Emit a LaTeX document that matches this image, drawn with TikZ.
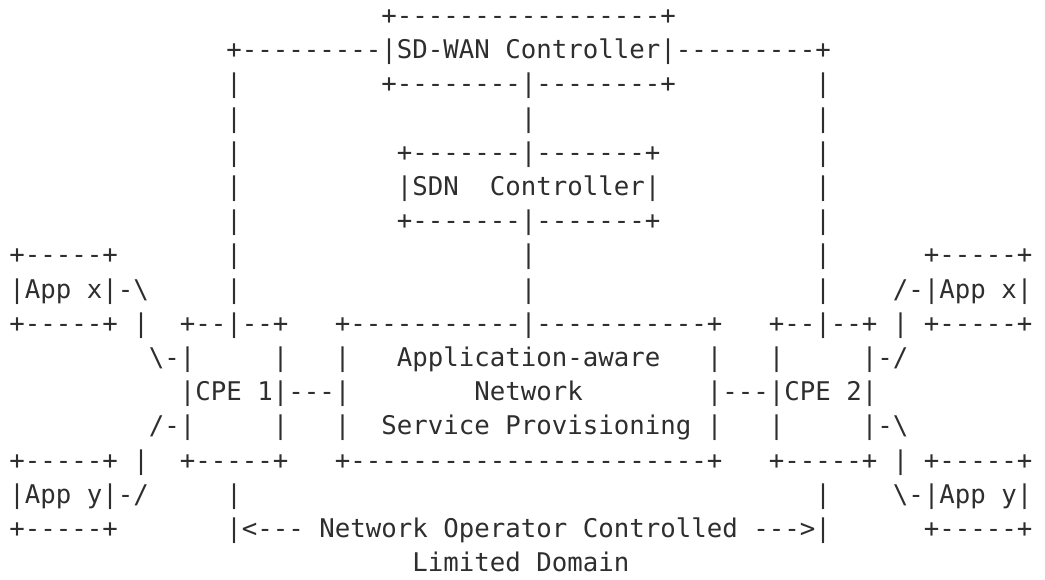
\documentclass[tikz,border=0pt]{standalone}
\usepackage{fontspec}
\setmonofont{DejaVu Sans Mono}
\definecolor{ink}{HTML}{2E2E2E}
% one character cell: 15.5pt wide, rows 34.2pt apart
\newcommand{\cellw}{15.5}
\newcommand{\rowh}{34.2}
\tikzset{
  glyphs/.style={anchor=base west, inner sep=0pt, outer sep=0pt, text=ink,
    font=\ttfamily\fontsize{25.75}{34.2}\selectfont},
}
% \seg{name}{column}{row}{text}
\newcommand{\seg}[4]{%
  \node[glyphs] (#1) at ({9.25+#2*\cellw}, {-(24.5+(#3-1)*\rowh)}) {#4};}
\begin{document}
\begin{tikzpicture}[x=1pt,y=1pt]
\useasboundingbox (0,-579) rectangle (1045,0);
% SD-WAN controller
\seg{wanTop}{24}{1}{+-----------------+}
\seg{wanMid}{14}{2}{+---------|SD-WAN Controller|---------+}
\seg{wanLeftA}{14}{3}{|}
\seg{wanBot}{24}{3}{+--------|--------+}
\seg{wanRightA}{52}{3}{|}
\seg{wanLeftB}{14}{4}{|}
\seg{wanDown}{33}{4}{|}
\seg{wanRightB}{52}{4}{|}
% SDN controller
\seg{wanLeftC}{14}{5}{|}
\seg{sdnTop}{25}{5}{+-------|-------+}
\seg{wanRightC}{52}{5}{|}
\seg{wanLeftD}{14}{6}{|}
\seg{sdnMid}{25}{6}{|SDN\ \ Controller|}
\seg{wanRightD}{52}{6}{|}
\seg{wanLeftE}{14}{7}{|}
\seg{sdnBot}{25}{7}{+-------|-------+}
\seg{wanRightE}{52}{7}{|}
% applications x and the links down to the CPEs
\seg{appXlTop}{0}{8}{+-----+}
\seg{wanLeftF}{14}{8}{|}
\seg{sdnDownA}{33}{8}{|}
\seg{wanRightF}{52}{8}{|}
\seg{appXrTop}{59}{8}{+-----+}
\seg{appXlMid}{0}{9}{|App x|-\textbackslash}
\seg{wanLeftG}{14}{9}{|}
\seg{sdnDownB}{33}{9}{|}
\seg{wanRightG}{52}{9}{|}
\seg{appXrMid}{57}{9}{/-|App x|}
% CPEs and the provisioning box
\seg{appXlBot}{0}{10}{+-----+}
\seg{linkXl}{8}{10}{|}
\seg{cpeOneTop}{11}{10}{+--|--+}
\seg{provTop}{21}{10}{+-----------|-----------+}
\seg{cpeTwoTop}{49}{10}{+--|--+}
\seg{linkXr}{57}{10}{|}
\seg{appXrBot}{59}{10}{+-----+}
\seg{linkXlIn}{9}{11}{\textbackslash-|}
\seg{cpeOneR}{17}{11}{|}
\seg{provLA}{21}{11}{|}
\seg{provTxtA}{25}{11}{Application-aware}
\seg{provRA}{45}{11}{|}
\seg{cpeTwoL}{49}{11}{|}
\seg{linkXrIn}{55}{11}{|-/}
\seg{cpeOne}{11}{12}{|CPE 1|---|}
\seg{provTxtB}{30}{12}{Network}
\seg{cpeTwo}{45}{12}{|---|CPE 2|}
\seg{linkYlIn}{9}{13}{/-|}
\seg{cpeOneRB}{17}{13}{|}
\seg{provLB}{21}{13}{|}
\seg{provTxtC}{24}{13}{Service Provisioning}
\seg{provRB}{45}{13}{|}
\seg{cpeTwoLB}{49}{13}{|}
\seg{linkYrIn}{55}{13}{|-\textbackslash}
\seg{appYlTop}{0}{14}{+-----+}
\seg{linkYl}{8}{14}{|}
\seg{cpeOneBot}{11}{14}{+-----+}
\seg{provBot}{21}{14}{+-----------------------+}
\seg{cpeTwoBot}{49}{14}{+-----+}
\seg{linkYr}{57}{14}{|}
\seg{appYrTop}{59}{14}{+-----+}
% applications y and the domain span
\seg{appYlMid}{0}{15}{|App y|-/}
\seg{domL}{14}{15}{|}
\seg{domR}{52}{15}{|}
\seg{appYrMid}{57}{15}{\textbackslash-|App y|}
\seg{appYlBot}{0}{16}{+-----+}
\seg{domSpan}{14}{16}{|<--- Network Operator Controlled --->|}
\seg{appYrBot}{59}{16}{+-----+}
\seg{domName}{26}{17}{Limited Domain}
\end{tikzpicture}
\end{document}
